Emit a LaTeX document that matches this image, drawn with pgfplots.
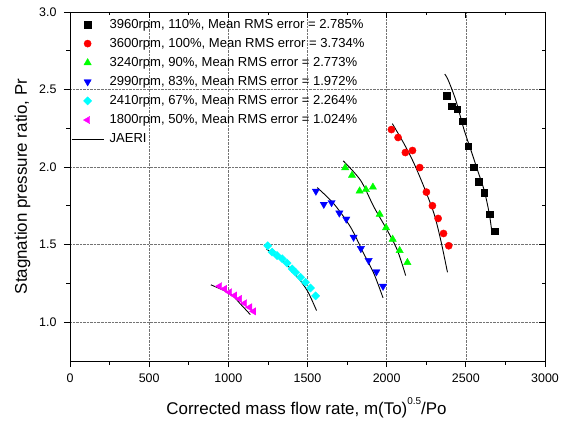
\documentclass[border=0pt]{standalone}
\usepackage{fontspec}
\setmainfont{Liberation Sans}
\usepackage{pgfplots}
\pgfplotsset{compat=1.18}
\definecolor{mgreen}{RGB}{0,255,0}
\definecolor{mcyan}{RGB}{0,255,255}
\definecolor{mmag}{RGB}{255,0,255}
\definecolor{mred}{RGB}{255,0,0}
\definecolor{mblue}{RGB}{0,0,255}
\begin{document}
\begin{tikzpicture}
\pgfplotsset{
  common/.style={
    width=475bp, height=349bp, scale only axis,
    xmin=0, xmax=3000, ymin=0.75, ymax=3.0,
    xtick={0,500,1000,1500,2000,2500,3000},
    ytick={1,1.5,2,2.5,3},
    minor x tick num=1, minor y tick num=1,
    axis line style={line width=0.9pt},
    major tick length=6bp, minor tick length=3.5bp,
    every tick/.style={black, line width=0.8pt},
    /pgf/number format/assume math mode=true,
    /pgf/number format/1000 sep={},
    ticklabel style={font=\fontsize{12.5}{14}\selectfont},
    xticklabel style={yshift=-3bp},
    yticklabel style={xshift=-4bp, /pgf/number format/.cd, fixed, fixed zerofill, precision=1},
  }
}
\begin{axis}[common, name=main,
  tick align=outside, xtick pos=left, ytick pos=left,
  grid=major, major grid style={densely dotted, black!55, line width=0.6pt},
  xlabel={Corrected mass flow rate, m(To)\raisebox{1.1ex}{\fontsize{10}{10}\selectfont 0.5}/Po},
  ylabel={Stagnation pressure ratio, Pr},
  every axis x label/.style={at={(axis description cs:0.498,-0.152)}, anchor=base, font=\fontsize{17}{20}\selectfont},
  every axis y label/.style={at={(axis description cs:-0.100,0.5)}, rotate=90, anchor=center, font=\fontsize{17}{20}\selectfont},
  legend cell align=left,
  legend image code/.code={\draw[mark repeat=2,mark phase=2] plot coordinates {(0bp,0bp)(16bp,0bp)(32bp,0bp)};},
  legend style={at={(0,1)}, anchor=north west, xshift=1bp, yshift=-5.5bp, draw=none, fill=none,
    font=\fontsize{13.1}{15}\selectfont, row sep=5.5bp, inner sep=0pt,
    nodes={inner sep=1.5bp},
    /tikz/every even column/.append style={column sep=4bp},
    /tikz/every odd column/.append style={column sep=4bp}},
]
% 3960 rpm
\addplot[only marks, mark=square*, mark size=3.3bp, mark options={draw=black, fill=black}] table {
2380 2.461
2411 2.393
2445 2.373
2481 2.296
2515 2.134
2549 2.000
2582 1.907
2616 1.836
2650 1.696
2684 1.588
};
\addlegendentry{3960rpm, 110\%, Mean RMS error = 2.785\%}
% 3600 rpm
\addplot[only marks, mark=*, mark size=3.6bp, mark options={draw=mred, fill=mred}] table {
2030 2.242
2072 2.191
2118 2.094
2163 2.107
2209 1.997
2251 1.839
2289 1.751
2325 1.669
2359 1.572
2392 1.493
};
\addlegendentry{3600rpm, 100\%, Mean RMS error = 3.734\%}
% 3240 rpm
\addplot[only marks, mark=triangle*, mark size=4.2bp, mark options={draw=mgreen, fill=mgreen}] table {
1738 1.996
1781 1.947
1829 1.846
1869 1.855
1913 1.871
1956 1.696
1996 1.609
2038 1.535
2082 1.462
2131 1.385
};
\addlegendentry{3240rpm, 90\%, Mean RMS error = 2.773\%}
% 2990 rpm
\addplot[only marks, mark=triangle*, mark size=4.2bp, mark options={draw=mblue, fill=mblue, rotate=180}] table {
1553 1.845
1603 1.760
1652 1.771
1701 1.704
1745 1.665
1791 1.548
1837 1.475
1886 1.398
1935 1.325
1977 1.232
};
\addlegendentry{2990rpm, 83\%, Mean RMS error = 1.972\%}
% 2410 rpm
\addplot[only marks, mark=square*, mark size=2.9bp, mark options={draw=mcyan, fill=mcyan, rotate=45}] table {
1249 1.493
1276 1.452
1308 1.430
1340 1.409
1371 1.381
1403 1.344
1424 1.322
1456 1.290
1487 1.258
1519 1.221
1551 1.170
};
\addlegendentry{2410rpm, 67\%, Mean RMS error = 2.264\%}
% 1800 rpm
\addplot[only marks, mark=triangle*, mark size=4.2bp, mark options={draw=mmag, fill=mmag, rotate=90}] table {
945 1.232
977 1.215
1008 1.193
1040 1.172
1071 1.150
1103 1.122
1135 1.096
1160 1.070
};
\addlegendentry{1800rpm, 50\%, Mean RMS error = 1.024\%}
% JAERI lines
\addplot[black, line width=0.9pt, smooth, no marks] table {
2367 2.600
2389 2.560
2437 2.430
2489 2.240
2532 2.110
2574 1.980
2616 1.850
2648 1.700
2666 1.570
};
\addlegendentry{JAERI}
\addplot[black, line width=0.9pt, smooth, no marks, forget plot] table {
2036 2.280
2109 2.152
2173 2.023
2236 1.871
2299 1.700
2342 1.527
2384 1.322
};
\addplot[black, line width=0.9pt, smooth, no marks, forget plot] table {
1726 2.040
1835 1.915
1920 1.742
2004 1.592
2068 1.463
2120 1.301
};
\addplot[black, line width=0.9pt, smooth, no marks, forget plot] table {
1561 1.868
1666 1.764
1772 1.613
1856 1.441
1920 1.312
1977 1.157
};
\addplot[black, line width=0.9pt, smooth, no marks, forget plot] table {
1241 1.471
1329 1.409
1413 1.322
1498 1.204
1557 1.075
};
\addplot[black, line width=0.9pt, smooth, no marks, forget plot] table {
890 1.241
1013 1.183
1076 1.118
1139 1.049
};
\end{axis}
\begin{axis}[common,
  tick align=inside, xtick pos=right, ytick pos=right,
  xticklabels={}, yticklabels={},
]
\end{axis}
\pgfresetboundingbox
\path ([shift={(-70bp,-62bp)}]main.south west) rectangle ([shift={(25bp,12bp)}]main.north east);
\end{tikzpicture}
\end{document}
